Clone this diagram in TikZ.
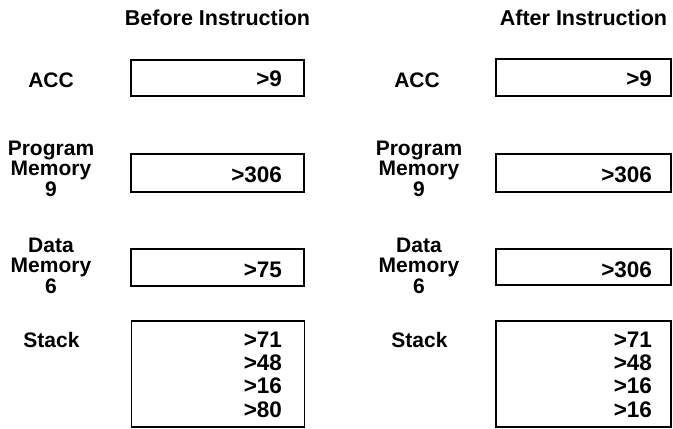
\documentclass[tikz,border=0pt]{standalone}
\usepackage{fontspec}
\setmainfont{Liberation Sans}
\begin{document}
\begin{tikzpicture}[x=1pt,y=-1pt,
  every node/.style={inner sep=0pt,outer sep=0pt,font=\fontsize{21}{20.5}\selectfont\bfseries},
  regbox/.style={draw,line width=1.8pt,rectangle,minimum width=#1},
  regbox/.default=173pt,
  lbl/.style={align=center,anchor=base},
  val/.style={anchor=base east,font=\fontsize{22.5}{19}\selectfont\bfseries}]
\useasboundingbox (0,0) rectangle (673,429);
% headings
\node[lbl,font=\fontsize{21.5}{20}\selectfont\bfseries] (hb) at (217.5,25) {Before Instruction};
\node[lbl,font=\fontsize{21.5}{20}\selectfont\bfseries] (ha) at (583.5,25) {After Instruction};
% left labels
\node[lbl] (accl) at (51,87) {ACC};
\node[lbl] (pml) at (51,196) {Program\\Memory\\9};
\node[lbl] (dml) at (51,293) {Data\\Memory\\6};
\node[lbl] (stl) at (51.5,347) {Stack};
% right labels
\node[lbl] (accr) at (417,87) {ACC};
\node[lbl] (pmr) at (419,196) {Program\\Memory\\9};
\node[lbl] (dmr) at (419,293) {Data\\Memory\\6};
\node[lbl] (str) at (419.5,347) {Stack};
% left boxes
\node[regbox,minimum height=36pt] (bacc) at (217.5,78) {};
\node[regbox,minimum height=38pt] (bpm) at (217.5,173) {};
\node[regbox,minimum height=37pt] (bdm) at (217.5,267.5) {};
\node[regbox,minimum height=106pt] (bst) at (218,374) {};
% right boxes
\node[regbox=175pt,minimum height=37pt] (aacc) at (583.5,77.5) {};
\node[regbox=175pt,minimum height=38pt] (apm) at (583.5,173) {};
\node[regbox=175pt,minimum height=36pt] (adm) at (583.5,267) {};
\node[regbox=175pt,minimum height=106pt] (ast) at (583.5,374) {};
% left values
\node[val] (vbacc) at (282,86) {>9};
\node[val] (vbpm) at (282,182) {>306};
\node[val] (vbdm) at (282,277) {>75};
\node[val] (vbs1) at (282,347) {>71};
\node[val] (vbs2) at (282,370) {>48};
\node[val] (vbs3) at (282,393.5) {>16};
\node[val] (vbs4) at (282,417) {>80};
% right values
\node[val] (vaacc) at (652,86) {>9};
\node[val] (vapm) at (652,182) {>306};
\node[val] (vadm) at (652,277) {>306};
\node[val] (vas1) at (652,347) {>71};
\node[val] (vas2) at (652,370) {>48};
\node[val] (vas3) at (652,393.5) {>16};
\node[val] (vas4) at (652,417) {>16};
\end{tikzpicture}
\end{document}
